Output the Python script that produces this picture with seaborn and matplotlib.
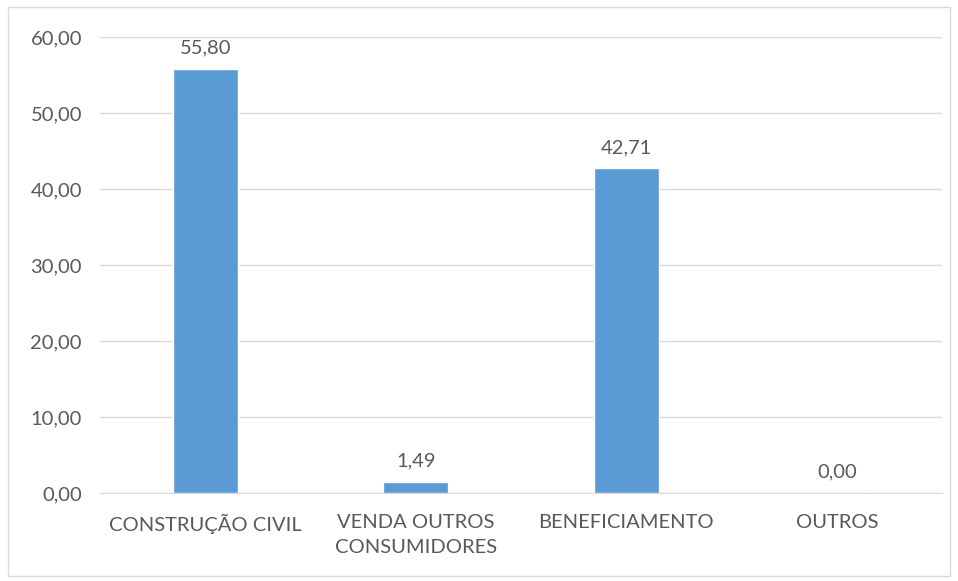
import numpy as np
import pandas as pd
import matplotlib
matplotlib.use('Agg')
import matplotlib.pyplot as plt
import seaborn as sns
from matplotlib.patches import Rectangle

categories = ['CONSTRUÇÃO CIVIL', 'VENDA OUTROS\nCONSUMIDORES', 'BENEFICIAMENTO', 'OUTROS']
values = [55.80, 1.49, 42.71, 0.00]
y_ticks = [0, 10, 20, 30, 40, 50, 60]

df = pd.DataFrame({'categoria': categories, 'valor': values})

sns.set_style('white')
plt.rcParams['font.family'] = ['Lato', 'DejaVu Sans']

text_color = '#595959'
fig = plt.figure(figsize=(9.58, 5.81), dpi=100)
ax = fig.add_axes([0.1044, 0.1515, 0.8789, 0.7848])

sns.barplot(data=df, x='categoria', y='valor', color='#5B9BD5', width=0.31,
            saturation=1, ax=ax, zorder=3)

ax.set_ylim(0, 60)
ax.set_yticks(y_ticks)
ax.set_yticklabels([f'{v:.2f}'.replace('.', ',') for v in y_ticks])
ax.set_xticks(range(len(categories)))
ax.set_xticklabels(categories, linespacing=1.6)
ax.set_xlabel('')
ax.set_ylabel('')
ax.grid(axis='y', color='#D9D9D9', linewidth=1, zorder=0)
for s in ['top', 'right', 'left']:
    ax.spines[s].set_visible(False)
ax.spines['bottom'].set_color('#D9D9D9')
ax.tick_params(axis='both', length=0, labelsize=14.5, colors=text_color)
ax.tick_params(axis='x', pad=15)
ax.tick_params(axis='y', pad=13)

for i, v in enumerate(values):
    ax.annotate(f'{v:.2f}'.replace('.', ','), (i, v), xytext=(0, 9),
                textcoords='offset points', ha='center', va='bottom',
                fontsize=14.5, color=text_color)

fig.patches.append(Rectangle((0.008, 0.008), 0.984, 0.98, transform=fig.transFigure,
                             fill=False, edgecolor='#D9D9D9', linewidth=1))

fig.savefig('out.png', dpi=100)
